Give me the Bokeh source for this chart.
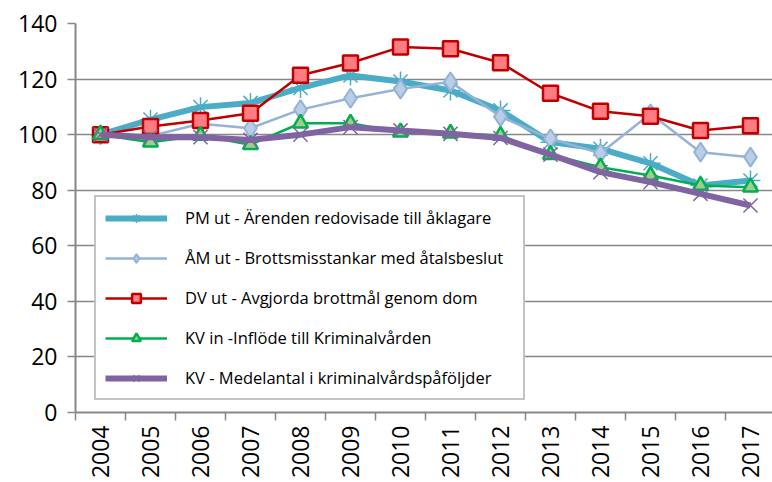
import math
from bokeh.plotting import figure
from bokeh.models import Range1d, FixedTicker, Legend, LegendItem
from bokeh.embed import file_html
from bokeh.resources import INLINE

years = [2004, 2005, 2006, 2007, 2008, 2009, 2010, 2011, 2012, 2013, 2014, 2015, 2016, 2017]

pm_ut = [100, 105.4, 109.9, 111.4, 116.8, 121.3, 119.1, 115.9, 108.7, 97.3, 94.9, 89.7, 81.7, 83.5]
am_ut = [100, 99.5, 103.9, 102.3, 109.0, 113.1, 116.4, 119.0, 106.5, 98.5, 93.3, 107.5, 93.7, 91.9]
dv_ut = [100, 102.9, 105.1, 107.7, 121.4, 125.8, 131.5, 130.9, 125.9, 114.9, 108.4, 106.6, 101.5, 103.2]
kv_in = [100, 97.3, 99.7, 96.4, 104.1, 104.1, 100.9, 100.5, 99.7, 92.8, 88.3, 85.3, 81.7, 81.1]
kv_med = [100, 99.1, 99.1, 98.1, 100.0, 102.7, 101.5, 100.3, 98.8, 92.8, 86.5, 82.9, 78.7, 74.5]

labels = [
    "PM ut - Ärenden redovisade till åklagare",
    "ÅM ut - Brottsmisstankar med åtalsbeslut",
    "DV ut - Avgjorda brottmål genom dom",
    "KV in -Inflöde till Kriminalvården",
    "KV - Medelantal i kriminalvårdspåföljder",
]
y_ticks = [0, 20, 40, 60, 80, 100, 120, 140]

FONT = "Open Sans"
GRID = "#878787"

p = figure(width=772, height=482, output_backend="svg", toolbar_location=None,
           x_range=Range1d(2003.5, 2017.44), y_range=Range1d(0, 140),
           min_border_left=75, min_border_right=0, min_border_top=23, min_border_bottom=70)
p.outline_line_color = None

# axes
p.yaxis.ticker = FixedTicker(ticks=y_ticks)
p.yaxis.minor_tick_line_color = None
p.yaxis.major_tick_out = 8
p.yaxis.major_tick_in = 0
p.yaxis.major_label_standoff = 10
p.yaxis.axis_line_color = GRID
p.yaxis.axis_line_width = 2
p.yaxis.major_tick_line_color = GRID
p.yaxis.major_tick_line_width = 1.5
p.yaxis.major_label_text_font = FONT
p.yaxis.major_label_text_font_size = "23px"
p.yaxis.major_label_text_color = "#000000"

p.xaxis.ticker = FixedTicker(ticks=years, minor_ticks=[y - 0.5 for y in years])
p.xaxis.major_tick_out = 0
p.xaxis.major_tick_in = 0
p.xaxis.minor_tick_out = 8
p.xaxis.minor_tick_in = 0
p.xaxis.minor_tick_line_color = GRID
p.xaxis.minor_tick_line_width = 1.5
p.xaxis.axis_line_color = GRID
p.xaxis.axis_line_width = 2
p.xaxis.major_label_orientation = math.pi / 2
p.xaxis.major_label_standoff = 5
p.xaxis.major_label_text_font = FONT
p.xaxis.major_label_text_font_size = "23px"
p.xaxis.major_label_text_color = "#000000"

p.xgrid.grid_line_color = None
p.ygrid.ticker = FixedTicker(ticks=y_ticks)
p.ygrid.grid_line_color = GRID
p.ygrid.grid_line_width = 1.5

items = []

# PM ut
l1 = p.line(years, pm_ut, line_color="#4BACC6", line_width=6)
s1 = p.scatter(years, pm_ut, marker="asterisk", size=20, line_color="#4BACC6", line_width=1.5)
items.append(LegendItem(label=labels[0], renderers=[l1, s1]))

# ÅM ut
l2 = p.line(years, am_ut, line_color="#95B3D7", line_width=2.5)
s2 = p.scatter(years, am_ut, marker="diamond", size=19, fill_color="#B9CDE5",
               line_color="#95B3D7", line_width=2)
items.append(LegendItem(label=labels[1], renderers=[l2, s2]))

# DV ut
l3 = p.line(years, dv_ut, line_color="#C00000", line_width=2.5)
s3 = p.scatter(years, dv_ut, marker="square", size=15, fill_color="#FF7C80",
               line_color="#C00000", line_width=2.5)
items.append(LegendItem(label=labels[2], renderers=[l3, s3]))

# KV in
l4 = p.line(years, kv_in, line_color="#00B050", line_width=2.5)
s4 = p.scatter(years, kv_in, marker="triangle", size=15, fill_color="#9BCF8B",
               line_color="#00B050", line_width=2.5)
items.append(LegendItem(label=labels[3], renderers=[l4, s4]))

# KV medelantal
l5 = p.line(years, kv_med, line_color="#8064A2", line_width=6)
s5 = p.scatter(years, kv_med, marker="x", size=20, line_color="#8064A2", line_width=1.5)
items.append(LegendItem(label=labels[4], renderers=[l5, s5]))

legend = Legend(items=items, location=(19, 12))
legend.border_line_color = "#878787"
legend.border_line_width = 2
legend.background_fill_color = "white"
legend.background_fill_alpha = 1
legend.padding = 9
legend.spacing = 17
legend.glyph_width = 62
legend.glyph_height = 22
legend.label_height = 22
legend.label_width = 329
legend.label_standoff = 18
legend.margin = 0
legend.label_text_font = FONT
legend.label_text_font_size = "16.5px"
legend.label_text_color = "#000000"
p.add_layout(legend, "center")

open("out.html", "w").write(file_html(p, INLINE))
